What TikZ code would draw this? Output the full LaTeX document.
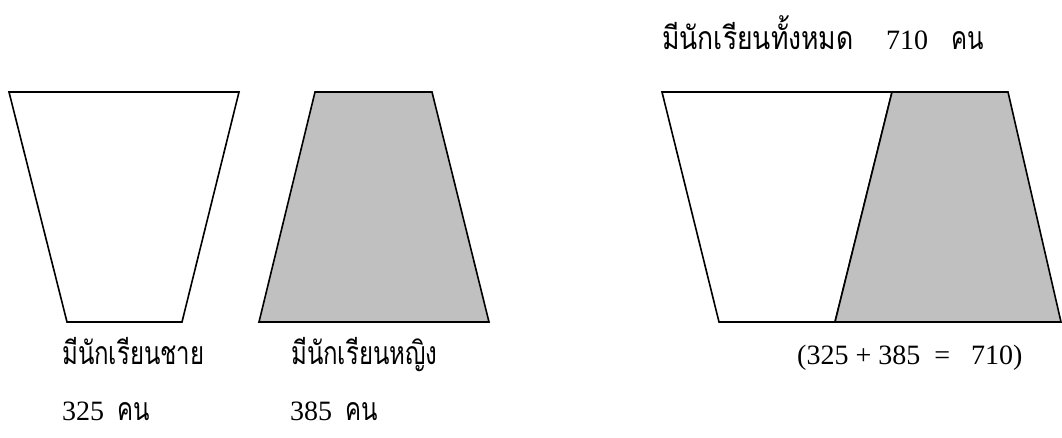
\documentclass[tikz,border=0pt]{standalone}
\usepackage{fontspec}
\setmainfont{Liberation Serif}
\newfontfamily\thai[Script=Thai,FakeStretch=0.75]{Loma}
\newfontfamily\thaiwide[Script=Thai,FakeStretch=0.83]{Loma}
\definecolor{shade}{HTML}{C0C0C0}
\tikzset{
  trap/.style={draw=black, line width=1.6pt, line join=miter},
  lat/.style={inner sep=0pt, anchor=base west, font=\fontsize{28}{32}\selectfont},
  th/.style={inner sep=0pt, anchor=base west, font=\fontsize{32}{36}\selectfont\thai},
  thw/.style={inner sep=0pt, anchor=base west, font=\fontsize{32}{36}\selectfont\thaiwide},
}
\begin{document}
\begin{tikzpicture}[x=1pt,y=-1pt]
\useasboundingbox (0,0) rectangle (1062,437);
% left: boys
\filldraw[trap, fill=white] (9,92) -- (239,92) -- (182,322) -- (67,322) -- cycle;
% middle: girls
\filldraw[trap, fill=shade] (315,92) -- (432,92) -- (489,322) -- (259,322) -- cycle;
% right: combined
\filldraw[trap, fill=white] (662,92) -- (892,92) -- (835,322) -- (719,322) -- cycle;
\filldraw[trap, fill=shade] (892,92) -- (1008,92) -- (1061,322) -- (835,322) -- cycle;
% labels
\node[th] (boys) at (62,364) {มีนักเรียนชาย};
\node[lat] (boysn) at (62,420) {325};
\node[th] (boysu) at (117,420) {คน};
\node[th] (girls) at (291,364) {มีนักเรียนหญิง};
\node[lat] (girlsn) at (290,420) {385};
\node[th] (girlsu) at (345,420) {คน};
\node[lat] (sum) at (797,364) {(325 + 385 \ = \ \ 710)};
\node[thw] (total) at (662,49) {มีนักเรียนทั้งหมด};
\node[lat] (totaln) at (886,49) {710};
\node[th] (totalu) at (951,49) {คน};
\end{tikzpicture}
\end{document}
